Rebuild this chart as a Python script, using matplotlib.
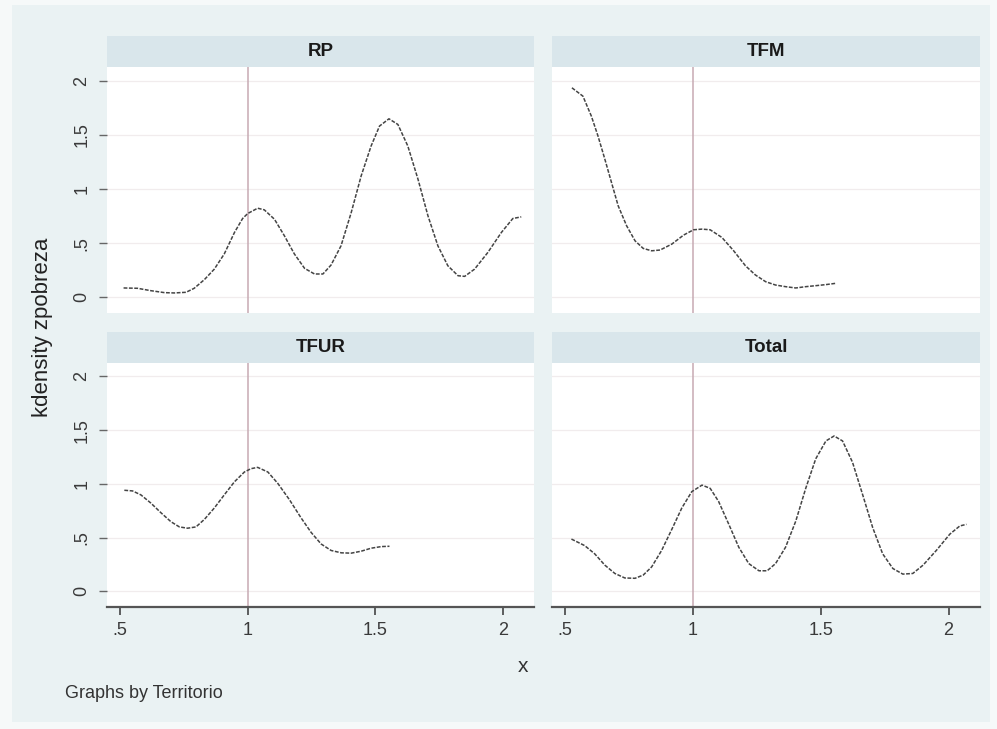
import matplotlib
matplotlib.use("Agg")
import matplotlib.pyplot as plt
from matplotlib.patches import Rectangle

plt.rcParams['font.family'] = ['Liberation Sans', 'DejaVu Sans']

# ---- data ----
panels = ["RP", "TFM", "TFUR", "Total"]

rp_x = [0.513, 0.568, 0.62, 0.673, 0.712, 0.758, 0.79, 0.83, 0.869, 0.908, 0.948, 0.98, 1.0,
        1.039, 1.065, 1.105, 1.144, 1.183, 1.223, 1.262, 1.295, 1.327, 1.366, 1.406, 1.445,
        1.484, 1.517, 1.554, 1.589, 1.628, 1.668, 1.707, 1.746, 1.785, 1.825, 1.851, 1.89,
        1.942, 1.995, 2.04, 2.073]
rp_y = [0.086, 0.083, 0.061, 0.043, 0.040, 0.046, 0.083, 0.163, 0.26, 0.40, 0.598, 0.727, 0.773,
        0.822, 0.807, 0.72, 0.567, 0.40, 0.267, 0.215, 0.215, 0.298, 0.475, 0.782, 1.12,
        1.396, 1.58, 1.647, 1.595, 1.396, 1.089, 0.752, 0.475, 0.291, 0.199, 0.193, 0.26,
        0.414, 0.598, 0.727, 0.742]

tfm_x = [0.526, 0.569, 0.602, 0.628, 0.655, 0.681, 0.707, 0.74, 0.773, 0.805, 0.838, 0.871,
         0.917, 0.963, 1.002, 1.035, 1.067, 1.113, 1.159, 1.205, 1.244, 1.284, 1.323, 1.362,
         1.402, 1.441, 1.48, 1.52, 1.559]
tfm_y = [1.933, 1.856, 1.672, 1.488, 1.273, 1.058, 0.844, 0.66, 0.521, 0.451, 0.429, 0.436,
         0.491, 0.574, 0.623, 0.629, 0.623, 0.552, 0.429, 0.291, 0.206, 0.144, 0.113, 0.098,
         0.086, 0.098, 0.107, 0.117, 0.129]

tfur_x = [0.516, 0.548, 0.581, 0.62, 0.66, 0.699, 0.732, 0.764, 0.797, 0.83, 0.869, 0.908,
          0.948, 0.987, 1.013, 1.039, 1.079, 1.118, 1.164, 1.209, 1.249, 1.288, 1.327, 1.367,
          1.406, 1.445, 1.484, 1.524, 1.556]
tfur_y = [0.941, 0.935, 0.898, 0.822, 0.731, 0.648, 0.60, 0.588, 0.60, 0.67, 0.776, 0.898,
          1.02, 1.111, 1.142, 1.154, 1.111, 1.005, 0.852, 0.685, 0.548, 0.441, 0.381, 0.359,
          0.356, 0.374, 0.402, 0.417, 0.42]

total_x = [0.524, 0.576, 0.615, 0.655, 0.694, 0.733, 0.773, 0.805, 0.838, 0.877, 0.917, 0.956,
           0.995, 1.035, 1.067, 1.1, 1.14, 1.179, 1.218, 1.258, 1.29, 1.323, 1.362, 1.402,
           1.441, 1.48, 1.52, 1.552, 1.585, 1.624, 1.664, 1.703, 1.742, 1.782, 1.821, 1.86,
           1.9, 1.952, 2.005, 2.044, 2.07]
total_y = [0.487, 0.426, 0.35, 0.244, 0.167, 0.125, 0.122, 0.152, 0.228, 0.381, 0.578, 0.776,
           0.928, 0.989, 0.959, 0.837, 0.624, 0.411, 0.259, 0.192, 0.192, 0.259, 0.411, 0.654,
           0.959, 1.233, 1.40, 1.446, 1.40, 1.202, 0.898, 0.594, 0.35, 0.213, 0.161, 0.167,
           0.244, 0.381, 0.533, 0.609, 0.624]

series_x = [rp_x, tfm_x, tfur_x, total_x]
series_y = [rp_y, tfm_y, tfur_y, total_y]

yticks = [0, 0.5, 1, 1.5, 2]
ytick_labels = ["0", ".5", "1", "1.5", "2"]
xticks = [0.5, 1, 1.5, 2]
xtick_labels = [".5", "1", "1.5", "2"]
xline_value = 1.0

ylabel = "kdensity zpobreza"
xlabel = "x"
note = "Graphs by Territorio"

# ---- figure ----
W, H = 997, 729
fig = plt.figure(figsize=(W / 100, H / 100), dpi=100)
fig.patch.set_facecolor("#f6f9f9")

def fx(px):
    return px / W

def fy(py):
    return 1 - py / H

# graph region background
bg = Rectangle((fx(12), fy(722)), fx(990) - fx(12), fy(5) - fy(722),
               transform=fig.transFigure, facecolor="#eaf2f3",
               edgecolor="none", zorder=-10)
fig.patches.append(bg)

cols = [(107, 534), (552, 980)]
rows = [(67, 313), (363, 607)]
strip_h = 31

for i, name in enumerate(panels):
    r, c = divmod(i, 2)
    x0, x1 = cols[c]
    y0, y1 = rows[r]
    ax = fig.add_axes([fx(x0), fy(y1), fx(x1) - fx(x0), fy(y0) - fy(y1)])
    ax.set_zorder(1)
    ax.set_facecolor("white")
    ax.set_xlim(0.448, 2.123)
    ax.set_ylim(-0.145, 2.125)
    for yv in yticks:
        ax.axhline(yv, color="#f1eced", lw=0.9, zorder=1)
    ax.axvline(xline_value, color="#c7aab3", lw=1.1, zorder=2)
    ax.plot(series_x[i], series_y[i], color="#444444", lw=1.1,
            linestyle=(0, (2.5, 1.0)), zorder=3)
    for s in ["top", "right", "left"]:
        ax.spines[s].set_visible(False)
    if r == 1:
        ax.spines["bottom"].set_color("#555555")
        ax.spines["bottom"].set_linewidth(1.6)
        ax.set_xticks(xticks)
        ax.set_xticklabels(xtick_labels, fontsize=13, color="#3a3a3a")
        ax.tick_params(axis="x", length=6, width=1.2, color="#444444", pad=5)
    else:
        ax.spines["bottom"].set_visible(False)
        ax.set_xticks([])
    if c == 0:
        ax.set_yticks(yticks)
        ax.set_yticklabels(ytick_labels, fontsize=13, color="#3a3a3a", rotation=90,
                           va="center")
        ax.tick_params(axis="y", length=6, width=1.0, color="#666666", pad=6)
    else:
        ax.set_yticks([])
    # strip
    sax = fig.add_axes([fx(x0), fy(y0), fx(x1) - fx(x0), fy(y0 - strip_h) - fy(y0)])
    sax.set_zorder(1)
    sax.set_facecolor("#d9e6eb")
    sax.set_xticks([])
    sax.set_yticks([])
    for s in sax.spines.values():
        s.set_visible(False)
    sax.text(0.5, 0.5, name, ha="center", va="center", fontsize=13.5, fontweight="bold",
             color="#1a1a1a", transform=sax.transAxes)

fig.text(fx(43), fy(327), ylabel, rotation=90, ha="center", va="center", fontsize=16,
         color="#222222")
fig.text(fx(523), fy(667), xlabel, ha="center", va="center", fontsize=15, color="#333333")
fig.text(fx(65), fy(693), note, ha="left", va="center", fontsize=13, color="#333333")

fig.savefig("out.png", dpi=100, facecolor=fig.get_facecolor())
